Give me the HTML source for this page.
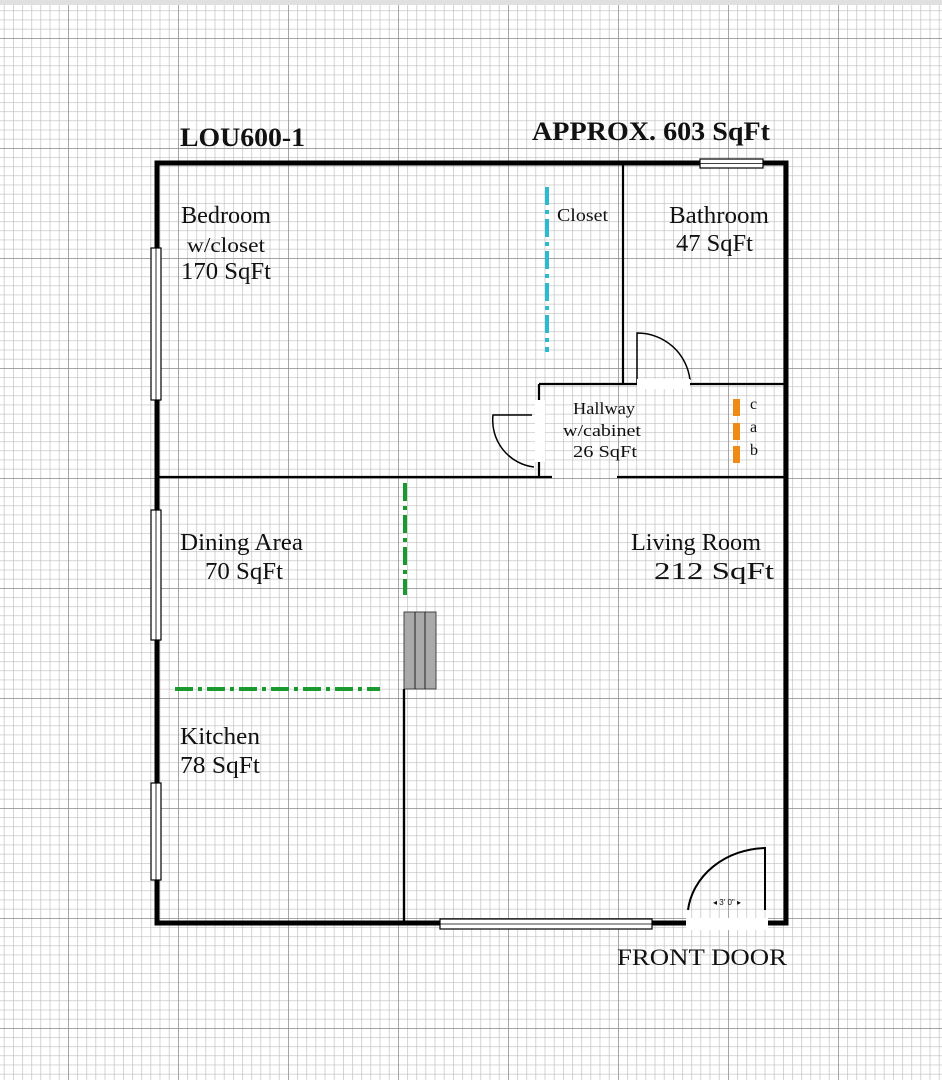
<!DOCTYPE html>
<html><head><meta charset="utf-8"><style>
html,body{margin:0;padding:0;}
body{width:942px;height:1080px;overflow:hidden;background:#fff;}
svg{display:block;}
text{font-family:"Liberation Serif",serif;fill:#111;}
</style></head><body>
<svg width="942" height="1080" viewBox="0 0 942 1080" xmlns="http://www.w3.org/2000/svg">
<defs>
<pattern id="minor" x="68" y="38" width="9.1667" height="9.1667" patternUnits="userSpaceOnUse">
<path d="M0 0V9.1667M0 0H9.1667" stroke="#bdbdbd" stroke-width="1.3" fill="none"/>
</pattern>
<pattern id="major" x="68" y="38" width="110" height="110" patternUnits="userSpaceOnUse">
<path d="M0 0V110M0 0H110" stroke="#8a8a8a" stroke-width="1.4" fill="none"/>
</pattern>
</defs>
<rect width="942" height="1080" fill="#fff"/>
<rect width="942" height="1080" fill="url(#minor)"/>
<rect width="942" height="1080" fill="url(#major)"/>
<rect x="0" y="0" width="942" height="5" fill="#e0e0e0"/>

<g stroke="#000" stroke-width="2.2" fill="none">
<path d="M623 163V384"/>
<path d="M539 384H637M690 384H786"/>
<path d="M539 384V400M539 462V477"/>
<path d="M157 477H552M617 477H786"/>
<path d="M404 690V923"/>
</g>
<g stroke="#000" stroke-width="1.5" fill="none">
<path d="M637 384V333A53 53 0 0 1 690 380"/>
<path d="M532 415H493A47 47 0 0 0 534 467"/>
<path d="M688 910A80 70 0 0 1 765 848V910" stroke-width="2"/>
</g>
<rect x="637" y="379" width="53" height="10" fill="#fff"/>
<rect x="535" y="400" width="10" height="62" fill="#fff"/>
<rect x="157" y="163" width="629" height="760" fill="none" stroke="#000" stroke-width="5"/>
<rect x="686" y="918" width="82" height="12" fill="#fff"/>
<text x="727" y="905" font-size="8" text-anchor="middle" style="font-family:'Liberation Sans',sans-serif">◂ 3' 0" ▸</text>
<g fill="#fff" stroke="#000" stroke-width="1.2">
<rect x="151" y="248" width="10" height="152"/>
<rect x="151" y="510" width="10" height="130"/>
<rect x="151" y="783" width="10" height="97"/>
<rect x="700" y="159" width="63" height="9"/>
<rect x="440" y="919" width="212" height="10"/>
</g>
<g stroke="#000" stroke-width="0.8">
<path d="M156 248V400M156 510V640M156 783V880M700 163.5H763M440 924H652"/>
</g>
<rect x="404" y="612" width="32" height="77" fill="#aaa" stroke="#444" stroke-width="1"/>
<path d="M415 612V689M425 612V689" stroke="#222" stroke-width="1"/>
<path d="M404 689V923" stroke="#000" stroke-width="2.2"/>
<path d="M547 187V352" stroke="#2bbbd0" stroke-width="4" stroke-dasharray="18 5 4 5"/>
<path d="M405 483V595" stroke="#1a9a2e" stroke-width="4" stroke-dasharray="18 5 4 5"/>
<path d="M175 689H380" stroke="#1a9a2e" stroke-width="4" stroke-dasharray="18 5 4 5"/>
<g fill="#f08a17">
<rect x="733" y="399" width="7" height="17"/>
<rect x="733" y="423" width="7" height="17"/>
<rect x="733" y="446" width="7" height="17"/>
</g>
<text x="180" y="146" font-size="26" font-weight="bold" textLength="125" lengthAdjust="spacingAndGlyphs">LOU600-1</text>
<text x="532" y="140" font-size="26" font-weight="bold" textLength="238" lengthAdjust="spacingAndGlyphs">APPROX. 603 SqFt</text>
<text x="181" y="223" font-size="24" textLength="90" lengthAdjust="spacingAndGlyphs">Bedroom</text>
<text x="187" y="252" font-size="21" textLength="78" lengthAdjust="spacingAndGlyphs">w/closet</text>
<text x="181" y="279" font-size="24" textLength="90" lengthAdjust="spacingAndGlyphs">170 SqFt</text>
<text x="557" y="221" font-size="18" textLength="51" lengthAdjust="spacingAndGlyphs">Closet</text>
<text x="669" y="223" font-size="24" textLength="100" lengthAdjust="spacingAndGlyphs">Bathroom</text>
<text x="676" y="251" font-size="24" textLength="77" lengthAdjust="spacingAndGlyphs">47 SqFt</text>
<text x="573" y="414" font-size="17" textLength="62" lengthAdjust="spacingAndGlyphs">Hallway</text>
<text x="563" y="436" font-size="17" textLength="78" lengthAdjust="spacingAndGlyphs">w/cabinet</text>
<text x="573" y="457" font-size="17" textLength="64" lengthAdjust="spacingAndGlyphs">26 SqFt</text>
<text x="750" y="409" font-size="16">c</text>
<text x="750" y="432" font-size="16">a</text>
<text x="750" y="455" font-size="16">b</text>
<text x="180" y="550" font-size="24" textLength="123" lengthAdjust="spacingAndGlyphs">Dining Area</text>
<text x="205" y="579" font-size="24" textLength="78" lengthAdjust="spacingAndGlyphs">70 SqFt</text>
<text x="631" y="550" font-size="24" textLength="130" lengthAdjust="spacingAndGlyphs">Living Room</text>
<text x="654" y="579" font-size="24" textLength="120" lengthAdjust="spacingAndGlyphs">212 SqFt</text>
<text x="180" y="744" font-size="24" textLength="80" lengthAdjust="spacingAndGlyphs">Kitchen</text>
<text x="180" y="773" font-size="24" textLength="80" lengthAdjust="spacingAndGlyphs">78 SqFt</text>
<text x="617" y="965" font-size="23" textLength="170" lengthAdjust="spacingAndGlyphs">FRONT DOOR</text>
</svg>
</body></html>
